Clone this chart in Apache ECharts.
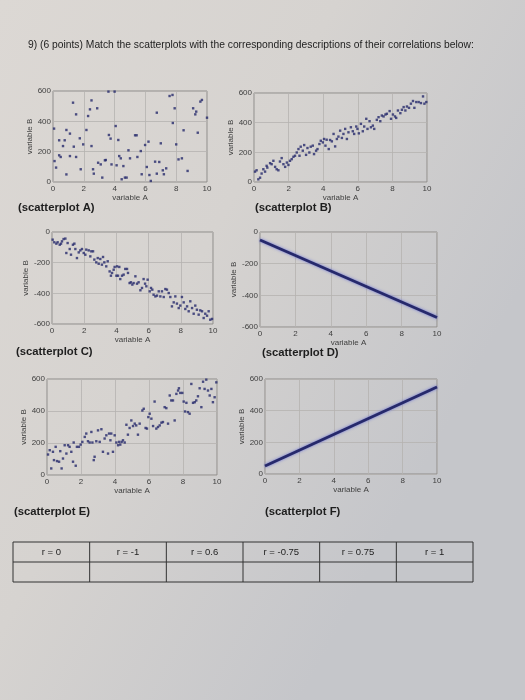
<!DOCTYPE html>
<html>
<head>
<meta charset="utf-8">
<script src="https://cdn.jsdelivr.net/npm/echarts@6/dist/echarts.min.js"></script>
<style>
  html, body { margin: 0; padding: 0; }
  #chart { width: 525px; height: 700px; }
</style>
</head>
<body>
<div id="chart"></div>
<script>
// values, [variable A, variable B]
const plotA = [
  [0.07, 352], [0.1, 138], [0.2, 95], [0.4, 275], [0.4, 176], [0.5, 165], [0.65, 237], [0.76, 275],
  [0.87, 50], [0.87, 343], [1.1, 319], [1.1, 171], [1.3, 523], [1.35, 233], [1.5, 446], [1.5, 165],
  [1.74, 288], [1.8, 84], [1.96, 248], [2.17, 343], [2.28, 435], [2.4, 479], [2.5, 538], [2.5, 237],
  [2.6, 84], [2.65, 55], [2.87, 486], [2.93, 127], [3.1, 116], [3.2, 29], [3.37, 143], [3.43, 145],
  [3.6, 596], [3.63, 310], [3.74, 286], [3.8, 116], [4.0, 596], [4.07, 369], [4.13, 110], [4.24, 277],
  [4.3, 171], [4.4, 156], [4.46, 18], [4.57, 105], [4.67, 29], [4.78, 29], [4.9, 209], [5.0, 156],
  [5.33, 308], [5.43, 308], [5.48, 165], [5.7, 204], [5.76, 51], [5.98, 244], [6.09, 99], [6.2, 266],
  [6.26, 46], [6.35, 7], [6.63, 134], [6.74, 457], [6.74, 55], [6.9, 132], [7.0, 255], [7.13, 77],
  [7.2, 51], [7.35, 90], [7.57, 567], [7.76, 574], [7.78, 389], [7.9, 486], [8.0, 248], [8.15, 149],
  [8.37, 156], [8.48, 341], [8.74, 73], [9.1, 486], [9.24, 446], [9.3, 464], [9.4, 325], [9.57, 530],
  [9.67, 541], [10.0, 424]
];
const plotB = [
  [0.06, 70], [0.15, 79], [0.25, 18], [0.35, 29], [0.44, 57], [0.54, 86], [0.64, 70], [0.73, 109],
  [0.77, 97], [0.93, 127], [1.02, 120], [1.12, 143], [1.22, 102], [1.31, 86], [1.41, 79], [1.5, 138],
  [1.6, 161], [1.7, 120], [1.8, 102], [1.9, 131], [1.99, 115], [2.08, 143], [2.18, 154], [2.28, 170],
  [2.37, 177], [2.47, 199], [2.57, 222], [2.63, 177], [2.7, 238], [2.82, 211], [2.9, 249], [3.01, 183],
  [3.09, 229], [3.2, 199], [3.28, 238], [3.4, 245], [3.47, 188], [3.59, 211], [3.67, 222], [3.78, 256],
  [3.86, 278], [3.98, 267], [4.05, 290], [4.13, 245], [4.2, 285], [4.32, 222], [4.4, 283], [4.5, 274],
  [4.6, 324], [4.69, 240], [4.79, 290], [4.88, 306], [4.98, 346], [5.08, 297], [5.17, 324], [5.27, 358],
  [5.37, 290], [5.46, 335], [5.6, 369], [5.71, 342], [5.79, 324], [5.91, 374], [5.98, 358], [6.06, 328],
  [6.18, 392], [6.29, 342], [6.37, 374], [6.49, 426], [6.56, 358], [6.68, 410], [6.76, 369], [6.87, 380],
  [6.95, 358], [7.1, 419], [7.2, 437], [7.3, 410], [7.39, 448], [7.49, 442], [7.6, 455], [7.68, 460],
  [7.84, 478], [7.92, 426], [8.03, 455], [8.15, 442], [8.22, 432], [8.32, 482], [8.46, 464], [8.55, 487],
  [8.65, 505], [8.75, 482], [8.84, 509], [8.96, 500], [9.07, 528], [9.19, 546], [9.27, 500], [9.38, 539],
  [9.52, 539], [9.65, 532], [9.77, 577], [9.85, 528], [9.96, 539]
];
const plotC = [
  [0.04, -50], [0.14, -67], [0.27, -76], [0.35, -67], [0.48, -83], [0.56, -76], [0.62, -61], [0.72, -46],
  [0.83, -43], [0.89, -137], [0.97, -72], [1.1, -111], [1.18, -148], [1.3, -83], [1.39, -76], [1.45, -111],
  [1.55, -170], [1.66, -133], [1.76, -120], [1.86, -111], [1.97, -137], [2.07, -148], [2.13, -115], [2.28, -120],
  [2.38, -159], [2.44, -126], [2.55, -126], [2.63, -180], [2.75, -198], [2.84, -170], [2.9, -207], [3.0, -176],
  [3.1, -213], [3.17, -163], [3.25, -198], [3.37, -224], [3.46, -191], [3.58, -257], [3.66, -285], [3.73, -267],
  [3.83, -246], [3.89, -228], [4.0, -285], [4.04, -224], [4.1, -285], [4.18, -228], [4.24, -307], [4.35, -285],
  [4.45, -278], [4.55, -241], [4.66, -241], [4.72, -267], [4.82, -333], [4.9, -328], [4.99, -343], [5.07, -333],
  [5.18, -289], [5.28, -337], [5.38, -328], [5.49, -380], [5.59, -365], [5.69, -307], [5.78, -337], [5.86, -354],
  [5.94, -311], [6.07, -387], [6.15, -365], [6.23, -376], [6.31, -409], [6.42, -420], [6.52, -415], [6.63, -387],
  [6.73, -420], [6.83, -387], [6.94, -424], [7.04, -372], [7.14, -376], [7.25, -398], [7.35, -424], [7.45, -485],
  [7.56, -459], [7.66, -420], [7.76, -467], [7.87, -496], [7.97, -480], [8.07, -424], [8.18, -459], [8.28, -502],
  [8.39, -485], [8.49, -517], [8.59, -452], [8.7, -496], [8.8, -533], [8.9, -480], [9.0, -507], [9.11, -539],
  [9.21, -511], [9.32, -517], [9.42, -561], [9.52, -533], [9.63, -546], [9.73, -517], [9.83, -572], [9.94, -567]
];
const lineD = [[0, -50], [10, -540]];
const plotE = [
  [0.06, 128], [0.16, 155], [0.25, 41], [0.35, 145], [0.41, 93], [0.51, 176], [0.59, 87], [0.71, 83],
  [0.78, 149], [0.86, 41], [0.94, 103], [1.04, 186], [1.14, 134], [1.24, 186], [1.33, 176], [1.43, 145],
  [1.53, 83], [1.57, 203], [1.69, 58], [1.76, 176], [1.88, 176], [1.98, 190], [2.08, 207], [2.22, 238],
  [2.31, 259], [2.41, 211], [2.51, 203], [2.61, 269], [2.67, 203], [2.75, 93], [2.8, 114], [2.9, 211],
  [3.0, 279], [3.1, 207], [3.2, 286], [3.29, 145], [3.39, 228], [3.49, 248], [3.59, 134], [3.65, 259],
  [3.73, 217], [3.78, 259], [3.88, 145], [3.98, 248], [4.08, 203], [4.18, 186], [4.24, 207], [4.31, 190],
  [4.39, 207], [4.47, 217], [4.57, 203], [4.67, 314], [4.76, 252], [4.86, 294], [4.96, 341], [5.06, 306],
  [5.16, 321], [5.25, 310], [5.35, 252], [5.45, 321], [5.61, 403], [5.69, 414], [5.8, 294], [5.88, 290],
  [5.96, 362], [6.04, 383], [6.14, 352], [6.24, 306], [6.33, 459], [6.43, 290], [6.53, 300], [6.63, 310],
  [6.73, 327], [6.82, 331], [6.92, 424], [7.02, 418], [7.12, 321], [7.22, 497], [7.31, 466], [7.41, 466],
  [7.51, 341], [7.61, 507], [7.71, 528], [7.76, 542], [7.84, 513], [7.96, 513], [8.04, 459], [8.12, 397],
  [8.2, 451], [8.29, 393], [8.39, 383], [8.49, 569], [8.59, 451], [8.69, 455], [8.78, 466], [8.88, 492],
  [8.98, 542], [9.08, 424], [9.18, 583], [9.27, 538], [9.37, 596], [9.47, 528], [9.57, 497], [9.67, 538],
  [9.76, 455], [9.86, 486], [9.96, 579]
];
const lineF = [[0, 50], [10, 550]];

const titleText = '9) (6 points) Match the scatterplots with the corresponding descriptions of their correlations below:';
const plotNames = ['(scatterplot A)', '(scatterplot B)', '(scatterplot C)', '(scatterplot D)', '(scatterplot E)', '(scatterplot F)'];
const rLabels = ['r = 0', 'r = -1', 'r = 0.6', 'r = -0.75', 'r = 0.75', 'r = 1'];

// layout of the six panels (photo is slightly skewed, so each one is placed by hand)
const panels = [
  { left: 53, top: 91, width: 154, height: 91, min: 0, max: 600, gap: 15, name: [18, 208] },
  { left: 254, top: 93, width: 173, height: 89, min: 0, max: 600, gap: 16, name: [255, 208] },
  { left: 52, top: 232, width: 161, height: 92, min: -600, max: 0, gap: 20, name: [16, 352] },
  { left: 260, top: 232, width: 177, height: 95, min: -600, max: 0, gap: 20, name: [262, 353] },
  { left: 47, top: 379, width: 170, height: 96, min: 0, max: 600, gap: 16, name: [14, 512] },
  { left: 265, top: 379, width: 172, height: 95, min: 0, max: 600, gap: 16, name: [265, 512] }
];
const seriesData = [plotA, plotB, plotC, lineD, plotE, lineF];

const ink = '#26296b';
const labelColor = '#3e3e3e';
const gridColor = '#b5b3b0';

const chart = echarts.init(document.getElementById('chart'));

const grid = panels.map(p => ({
  left: p.left, top: p.top, width: p.width, height: p.height,
  show: true, borderColor: '#8e8c8a', borderWidth: 1, backgroundColor: 'transparent'
}));

const xAxis = panels.map((p, i) => ({
  gridIndex: i, type: 'value', min: 0, max: 10, interval: 2,
  name: 'variable A', nameLocation: 'middle', nameGap: 12,
  nameTextStyle: { color: labelColor, fontSize: 8, fontFamily: 'Liberation Sans' },
  axisLine: { show: false }, axisTick: { show: false },
  axisLabel: { color: labelColor, fontSize: 8, margin: 3, fontFamily: 'Liberation Sans' },
  splitLine: { show: true, lineStyle: { color: gridColor, width: 0.8 } }
}));

const yAxis = panels.map((p, i) => ({
  gridIndex: i, type: 'value', min: p.min, max: p.max, interval: 200,
  name: 'variable B', nameLocation: 'middle', nameGap: p.gap, nameRotate: 90,
  nameTextStyle: { color: labelColor, fontSize: 8, fontFamily: 'Liberation Sans' },
  axisLine: { show: false }, axisTick: { show: false },
  axisLabel: { color: labelColor, fontSize: 8, margin: 2, fontFamily: 'Liberation Sans' },
  splitLine: { show: true, lineStyle: { color: gridColor, width: 0.8 } }
}));

const series = seriesData.map((d, i) => {
  if (i === 3 || i === 5) {
    return {
      type: 'line', xAxisIndex: i, yAxisIndex: i, data: d, symbol: 'none', silent: true,
      lineStyle: { color: ink, width: 2.8, shadowColor: 'rgba(70,80,220,0.7)', shadowBlur: 3 }
    };
  }
  return {
    type: 'scatter', xAxisIndex: i, yAxisIndex: i, data: d,
    symbol: 'rect', symbolSize: 2.4, silent: true,
    itemStyle: { color: ink }
  };
});

// paper text: title, panel names, answer table
const graphic = [];
graphic.push({
  type: 'text', left: 28, top: 40,
  style: { text: titleText, fill: '#1e1e1e', font: '10.3px "Liberation Sans"' }
});
panels.forEach((p, i) => {
  graphic.push({
    type: 'text', left: p.name[0], top: p.name[1] - 6,
    style: { text: plotNames[i], fill: '#1e1e1e', font: 'bold 11.3px "Liberation Sans"' }
  });
});
const tLeft = 13, tRight = 473, tTop = 542, tMid = 562, tBottom = 582;
const colW = (tRight - tLeft) / rLabels.length;
graphic.push({
  type: 'rect', shape: { x: tLeft, y: tTop, width: tRight - tLeft, height: tBottom - tTop },
  style: { fill: 'none', stroke: '#333', lineWidth: 1 }
});
graphic.push({
  type: 'line', shape: { x1: tLeft, y1: tMid, x2: tRight, y2: tMid },
  style: { stroke: '#333', lineWidth: 1 }
});
rLabels.forEach((t, i) => {
  if (i > 0) {
    graphic.push({
      type: 'line', shape: { x1: tLeft + colW * i, y1: tTop, x2: tLeft + colW * i, y2: tBottom },
      style: { stroke: '#333', lineWidth: 1 }
    });
  }
  graphic.push({
    type: 'text', x: tLeft + colW * (i + 0.5), y: (tTop + tMid) / 2,
    style: { text: t, fill: '#222', font: '9.5px "Liberation Sans"', align: 'center', verticalAlign: 'middle' }
  });
});

chart.setOption({
  backgroundColor: {
    type: 'linear', x: 0, y: 0, x2: 1, y2: 0.4,
    colorStops: [
      { offset: 0, color: '#dcd8d4' },
      { offset: 0.5, color: '#d6d3d0' },
      { offset: 1, color: '#c5c6ca' }
    ]
  },
  animation: false,
  grid: grid,
  xAxis: xAxis,
  yAxis: yAxis,
  series: series,
  graphic: graphic
});
</script>
</body>
</html>
